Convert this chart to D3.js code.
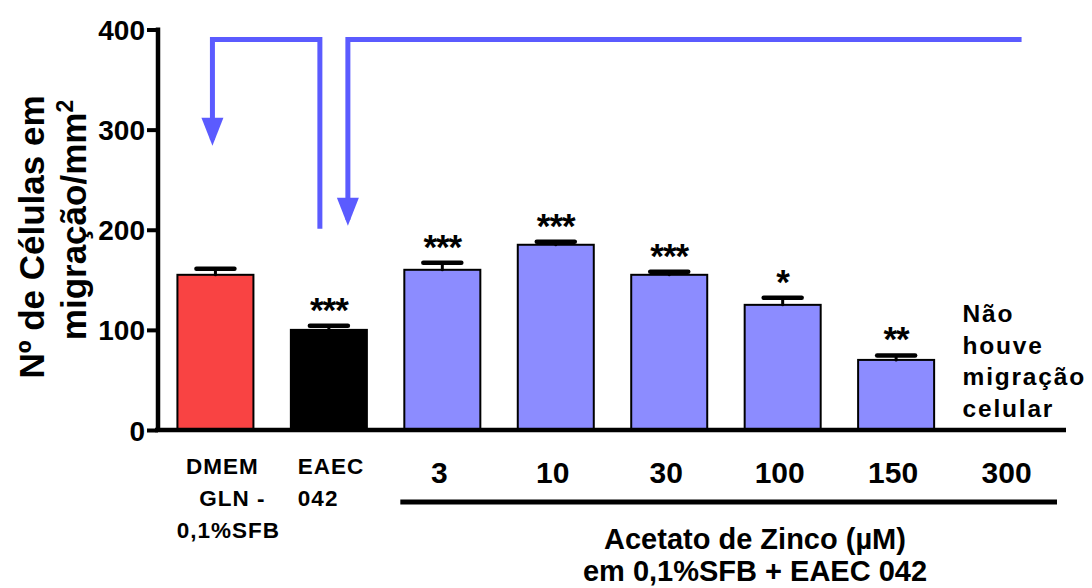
<!DOCTYPE html>
<html>
<head>
<meta charset="utf-8">
<script src="https://cdn.jsdelivr.net/npm/d3@7"></script>
<style>
  body { margin: 0; background: #fff; }
  text { font-family: "Liberation Sans", Arial, Helvetica, sans-serif; font-weight: bold; fill: #000; }
</style>
</head>
<body>
<svg id="chart" width="1092" height="588"></svg>
<script>
// Groups along the x axis
const categories = ["DMEM GLN - 0,1%SFB", "EAEC 042", "3", "10", "30", "100", "150", "300"];
const categoryLines = [["DMEM", "GLN -", "0,1%SFB"], ["EAEC", "042"], ["3"], ["10"], ["30"], ["100"], ["150"], ["300"]];
// Cells in migration per mm² (mean) and SEM; 300 µM: no migration
const means = [155, 100, 160, 185, 155, 125, 70, null];
const errors = [6, 4, 7, 3, 3, 7, 4.5, null];
const significance = ["", "***", "***", "***", "***", "*", "**", ""];
const barColors = ["#F94343", "#000000", "#8C8CFF", "#8C8CFF", "#8C8CFF", "#8C8CFF", "#8C8CFF", "#8C8CFF"];
const yTicks = [0, 100, 200, 300, 400];

const svg = d3.select("#chart");

const x = d3.scaleBand().domain(categories).range([157, 1068]).paddingInner(0.33).paddingOuter(0.18);
const y = d3.scaleLinear().domain([0, 400]).range([430, 29.5]);

const data = categories.map((c, i) => ({ c, lines: categoryLines[i], v: means[i], e: errors[i], s: significance[i], col: barColors[i] }));
const withValue = data.filter(d => d.v !== null);

// Bars
svg.append("g").selectAll("rect").data(withValue).join("rect")
  .attr("x", d => x(d.c))
  .attr("y", d => y(d.v))
  .attr("width", x.bandwidth())
  .attr("height", d => y(0) - y(d.v))
  .attr("fill", d => d.col)
  .attr("stroke", "#000")
  .attr("stroke-width", 2);

// Error bars (upper only)
const eb = svg.append("g").attr("stroke", "#000").attr("stroke-linecap", "round");
eb.selectAll("line.stem").data(withValue).join("line")
  .attr("class", "stem")
  .attr("x1", d => x(d.c) + x.bandwidth() / 2).attr("x2", d => x(d.c) + x.bandwidth() / 2)
  .attr("y1", d => y(d.v)).attr("y2", d => y(d.v + d.e))
  .attr("stroke-width", 3);
eb.selectAll("line.cap").data(withValue).join("line")
  .attr("class", "cap")
  .attr("x1", d => x(d.c) + x.bandwidth() / 2 - 19).attr("x2", d => x(d.c) + x.bandwidth() / 2 + 19)
  .attr("y1", d => y(d.v + d.e)).attr("y2", d => y(d.v + d.e))
  .attr("stroke-width", 4.5);

// Significance marks
svg.append("g").selectAll("text").data(withValue.filter(d => d.s)).join("text")
  .attr("x", d => x(d.c) + x.bandwidth() / 2)
  .attr("y", d => y(d.v + d.e) - 4)
  .attr("text-anchor", "middle")
  .style("font-size", "35px")
  .style("letter-spacing", "-1px")
  .text(d => d.s);

// Y axis
const yAxis = svg.append("g").attr("transform", "translate(158,0)")
  .call(d3.axisLeft(y).tickValues(yTicks).tickSize(11).tickSizeOuter(0).tickPadding(2));
yAxis.select(".domain").attr("stroke-width", 4.5).attr("d", `M0,${y(0) + 2}V${y(400) - 2}`);
yAxis.selectAll(".tick line").attr("stroke-width", 4);
yAxis.selectAll(".tick text").style("font-size", "28px").style("font-family", "'Liberation Sans', Arial, sans-serif").style("font-weight", "bold").attr("dy", "0.36em");

// X axis line
const xAxis = svg.append("g").attr("transform", `translate(0,${y(0)})`)
  .call(d3.axisBottom(x).tickSize(0).tickSizeOuter(0).tickFormat(""));
xAxis.select(".domain").attr("stroke-width", 4.5).attr("d", "M155,0H1066");

// Category labels
const catG = svg.append("g");
// control / EAEC columns
catG.append("text").attr("text-anchor", "middle").style("font-size", "22.5px").style("letter-spacing", "1px")
  .selectAll("tspan").data(categoryLines[0]).join("tspan")
  .attr("x", (d, i) => x(categories[0]) + x.bandwidth() / 2 + [7, 17, 13][i])
  .attr("y", (d, i) => 474 + i * 32)
  .text(d => d);
catG.append("text").attr("text-anchor", "start").style("font-size", "22.5px").style("letter-spacing", "1px")
  .selectAll("tspan").data(categoryLines[1]).join("tspan")
  .attr("x", x(categories[1]) + 7)
  .attr("y", (d, i) => 474 + i * 32)
  .text(d => d);
// concentrations
catG.selectAll("text.conc").data(data.slice(2)).join("text")
  .attr("class", "conc")
  .attr("x", d => x(d.c) + x.bandwidth() / 2 - 3)
  .attr("y", 483)
  .attr("text-anchor", "middle")
  .style("font-size", "30px")
  .text(d => d.lines[0]);

// Bracket under concentrations
svg.append("line").attr("x1", x("3") - 4).attr("x2", 1057).attr("y1", 502).attr("y2", 502)
  .attr("stroke", "#000").attr("stroke-width", 5);
svg.append("text").attr("text-anchor", "middle").style("font-size", "29px")
  .selectAll("tspan").data(["Acetato de Zinco (\u00B5M)", "em 0,1%SFB + EAEC 042"]).join("tspan")
  .attr("x", 755).attr("y", (d, i) => 549 + i * 32)
  .text(d => d);

// No-migration note in the 300 µM column
svg.append("text").style("font-size", "24.5px").style("letter-spacing", "1.8px")
  .selectAll("tspan").data(["Não", "houve", "migração", "celular"]).join("tspan")
  .attr("x", x("300") - 9).attr("y", (d, i) => 322 + i * 31.5)
  .text(d => d);

// Y axis title
svg.append("text")
  .attr("transform", "translate(44,237) rotate(-90)")
  .attr("text-anchor", "middle")
  .style("font-size", "35px")
  .text("Nº de Células em");
const t2 = svg.append("text")
  .attr("transform", "translate(86,220) rotate(-90)")
  .attr("text-anchor", "middle")
  .style("font-size", "35px");
t2.append("tspan").text("migração/mm");
t2.append("tspan").attr("dy", "-0.55em").style("font-size", "23px").text("2");

// Comparison arrows
const arrowColor = "#5B5BFF";
const cRed = x(categories[0]) + x.bandwidth() / 2;
const cBlack = x(categories[1]) + x.bandwidth() / 2;
const cLast = x("300") + x.bandwidth() / 2;
const arrows = svg.append("g");
arrows.append("path")
  .attr("d", `M${cBlack - 9},${y(201)}V${y(390)}H${cRed - 3}V${y(290)}`)
  .attr("fill", "none").attr("stroke", arrowColor).attr("stroke-width", 5);
arrows.append("path")
  .attr("d", `M${cBlack + 19},${y(210)}V${y(390)}H${cLast + 12}`)
  .attr("fill", "none").attr("stroke", arrowColor).attr("stroke-width", 5);
function head(cx, tipVal) {
  const ty = y(tipVal);
  arrows.append("path")
    .attr("d", `M${cx - 11},${ty - 28}L${cx + 11},${ty - 28}L${cx},${ty}Z`)
    .attr("fill", arrowColor);
}
head(cRed - 3, 284);
head(cBlack + 19, 204);
</script>
</body>
</html>
